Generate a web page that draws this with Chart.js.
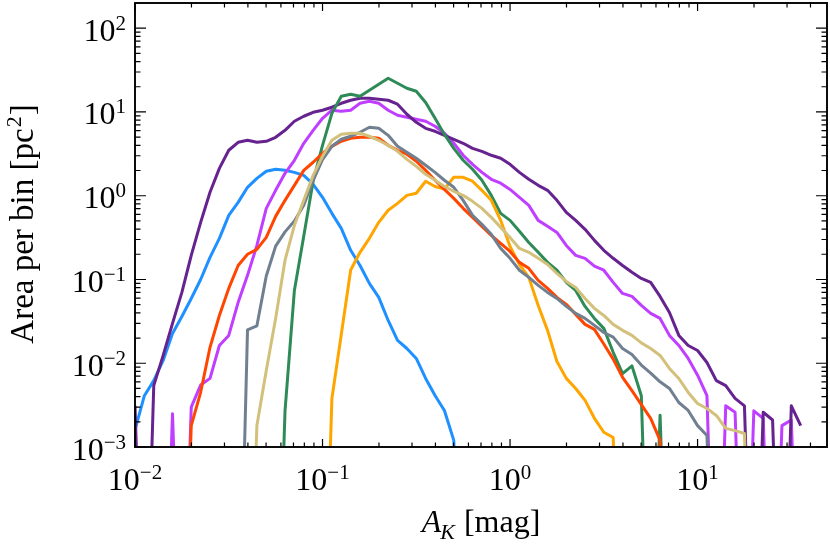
<!DOCTYPE html>
<html><head><meta charset="utf-8">
<script src="https://cdn.jsdelivr.net/npm/chart.js@4/dist/chart.umd.min.js"></script>
<style>html,body{margin:0;padding:0;background:#fff}#wrap{width:830px;height:545px}</style>
</head><body><div id="wrap"><canvas id="c" width="830" height="545"></canvas></div>
<script>
// bins with no area (drawn below the 1e-3 floor of the axis)
const ZERO = 1e-6;

// bin centres of A_K [mag]
const akBins = [
 0.01000,0.01122,0.01259,0.01413,0.01585,0.01778,0.01995,0.02239,0.02512,0.02818,
 0.03162,0.03548,0.03981,0.04467,0.05012,0.05623,0.06310,0.07079,0.07943,0.08913,
 0.1000,0.1122,0.1259,0.1413,0.1585,0.1778,0.1995,0.2239,0.2512,0.2818,
 0.3162,0.3548,0.3981,0.4467,0.5012,0.5623,0.6310,0.7079,0.7943,0.8913,
 1.000,1.122,1.259,1.413,1.585,1.778,1.995,2.239,2.512,2.818,
 3.162,3.548,3.981,4.467,5.012,5.623,6.310,7.079,7.943,8.913,
 10.00,11.22,12.59,14.13,15.85,17.78,19.95,22.39,25.12,28.18,
 31.62,35.48,39.81,44.67];

// area per bin [pc^2], one array per cloud
const blueArea = [
 0.0016,0.0041,0.0062,0.0108,0.0227,0.0362,0.0594,0.100,0.184,0.310,
 0.583,0.834,1.26,1.61,1.96,2.07,2.01,1.90,1.75,1.37,
 0.957,0.616,0.408,0.223,0.147,0.0898,0.0611,0.0324,0.0187,0.0150,
 0.0114,0.00658,0.00412,0.00273,0.0012,ZERO,null,null,null,null,
 null,null,null,null,null,null,null,null,null,null,
 null,null,null,null,null,null,null,null,null,null,
 null,null,null,null,null,null,null,null,null,null,
 null,null,null,null];
const purpleArea = [
 0.0031,ZERO,0.0054,0.0124,0.0299,0.0701,0.194,0.481,1.10,2.12,
 3.49,4.34,4.59,4.34,4.47,4.99,6.04,7.74,8.89,9.92,
 10.5,11.4,12.7,13.8,14.6,14.6,14.2,13.8,12.4,9.39,
 7.53,6.38,5.88,5.26,4.72,4.23,3.68,3.39,3.04,2.80,
 2.37,1.90,1.57,1.33,1.16,0.881,0.633,0.508,0.397,0.293,
 0.223,0.179,0.147,0.122,0.103,0.0923,0.0628,0.0404,0.0215,0.0163,
 0.0142,0.0102,0.0062,0.0054,0.0038,0.0031,ZERO,0.0026,0.0021,ZERO,
 0.0031,0.0018,null,null];
const magentaArea = [
 null,null,null,ZERO,0.0025,ZERO,0.0030,0.0055,0.0066,0.0163,
 0.0215,0.0532,0.112,0.255,0.707,1.16,1.85,2.65,4.23,6.04,
 8.41,10.5,10.2,10.5,12.7,13.4,12.7,10.5,9.14,8.64,
 8.18,7.74,6.75,5.57,4.23,3.04,2.37,1.90,1.57,1.41,
 1.19,0.957,0.768,0.508,0.431,0.365,0.255,0.194,0.179,0.144,
 0.129,0.0923,0.0682,0.0628,0.049,0.0394,0.0343,0.0215,0.0163,0.0114,
 0.0072,0.0041,ZERO,0.0031,0.0026,ZERO,0.0027,0.0022,ZERO,0.0018,
 0.0021,ZERO,null,null];
const redArea = [
 null,null,null,null,null,ZERO,0.0018,0.0045,0.0155,0.0372,
 0.0783,0.147,0.200,0.229,0.318,0.567,0.881,1.33,2.01,2.51,
 3.21,3.89,4.47,4.85,4.99,4.99,4.85,4.00,3.49,3.13,
 2.58,2.01,1.53,1.19,0.930,0.707,0.552,0.431,0.336,0.270,
 0.216,0.160,0.136,0.0975,0.0783,0.0611,0.0505,0.0383,0.0291,0.0254,
 0.0170,0.0112,0.0068,0.0047,0.0032,0.0022,0.0012,ZERO,null,null,
 null,null,null,null,null,null,null,null,null,null,
 null,null,null,null];
const grayArea = [
 null,null,null,null,null,null,null,null,null,null,
 null,ZERO,0.025,0.028,0.110,0.250,0.370,0.500,0.770,1.53,
 2.70,3.89,4.72,5.13,5.72,6.57,6.38,5.26,3.89,3.30,
 2.80,2.31,1.90,1.53,1.26,0.881,0.583,0.455,0.346,0.235,
 0.179,0.129,0.106,0.085,0.0701,0.0594,0.0477,0.0394,0.0343,0.0283,
 0.0233,0.0205,0.0150,0.0127,0.0095,0.0076,0.0060,0.0050,0.0034,0.00273,
 0.0018,0.00137,ZERO,null,null,null,null,null,null,null,
 null,null,null,null];
const khakiArea = [
 null,null,null,null,null,null,null,null,null,null,
 null,null,ZERO,0.0018,0.0082,0.0343,0.170,0.443,0.881,1.75,
 2.96,4.59,5.42,5.57,5.57,5.13,4.59,4.00,3.39,2.72,
 2.24,1.80,1.53,1.29,1.13,1.01,0.857,0.707,0.552,0.419,
 0.318,0.235,0.211,0.179,0.151,0.118,0.0948,0.0804,0.0594,0.0452,
 0.0372,0.0291,0.0247,0.0215,0.0175,0.0150,0.0124,0.00867,0.00658,0.00448,
 0.00331,0.00288,0.00238,0.00167,0.00157,0.00145,ZERO,null,null,null,
 null,null,null,null];
const greenArea = [
 null,null,null,null,null,null,null,null,null,null,
 null,null,null,null,null,ZERO,0.0027,0.074,0.330,1.50,
 4.00,9.64,15.4,16.3,15.4,18.2,21.4,25.3,22.0,19.2,
 17.7,13.0,8.41,5.40,3.68,2.65,2.07,1.53,1.01,0.616,
 0.508,0.376,0.277,0.211,0.160,0.129,0.0923,0.0741,0.0477,0.0343,
 0.0261,0.0135,0.0075,0.0093,0.0041,ZERO,0.0024,ZERO,null,null,
 null,null,null,null,null,null,null,null,null,null,
 null,null,null,null];
const orangeArea = [
 null,null,null,null,null,null,null,null,null,null,
 null,null,null,null,null,null,null,null,null,null,
 ZERO,0.0038,0.022,0.130,0.211,0.310,0.481,0.670,0.811,1.01,
 1.07,1.49,1.29,1.20,1.66,1.66,1.49,1.16,0.881,0.508,
 0.248,0.151,0.106,0.049,0.0247,0.0105,0.0066,0.0050,0.0036,0.0022,
 0.0015,0.0013,ZERO,null,null,null,null,null,null,null,
 null,null,null,null,null,null,null,null,null,null,
 null,null,null,null];

// axis ticks
const xMajor = [0.01, 0.1, 1, 10];
const xMajorExp = ['\u22122', '\u22121', '0', '1'];
const yMajor = [0.001, 0.01, 0.1, 1, 10, 100];
const yMajorExp = ['\u22123', '\u22122', '\u22121', '0', '1', '2'];
const tickBase = '10';
const minorMantissas = [2, 3, 4, 5, 6, 7, 8, 9];

const series = [
  {data: khakiArea, color: '#d2c07b'},
  {data: grayArea, color: '#708090'},
  {data: redArea, color: '#ff4500'},
  {data: orangeArea, color: '#ffa500'},
  {data: greenArea, color: '#2e8b57'},
  {data: purpleArea, color: '#66228e'},
  {data: magentaArea, color: '#bf3eff'},
  {data: blueArea, color: '#1e90ff'}
];

const FONT = "'Liberation Serif', 'Times New Roman', serif";

const axesPlugin = {
  id: 'mplAxes',
  afterDatasetsDraw(chart) {
    const ctx = chart.ctx, a = chart.chartArea, xs = chart.scales.x, ys = chart.scales.y;
    ctx.save();
    ctx.strokeStyle = '#000';
    ctx.lineWidth = 1.2;
    ctx.beginPath();
    const xTick = (v, len) => { const p = xs.getPixelForValue(v); ctx.moveTo(p, a.bottom); ctx.lineTo(p, a.bottom - len); ctx.moveTo(p, a.top); ctx.lineTo(p, a.top + len); };
    const yTick = (v, len) => { const p = ys.getPixelForValue(v); ctx.moveTo(a.left, p); ctx.lineTo(a.left + len, p); ctx.moveTo(a.right, p); ctx.lineTo(a.right - len, p); };
    xMajor.forEach(v => { xTick(v, 8); minorMantissas.forEach(m => { if (v * m < xs.max) xTick(v * m, 4.5); }); });
    yMajor.forEach(v => { yTick(v, 11); minorMantissas.forEach(m => { if (v * m < ys.max) yTick(v * m, 5.5); }); });
    ctx.stroke();
    ctx.lineWidth = 1.9;
    ctx.strokeRect(a.left, a.top, a.right - a.left, a.bottom - a.top);

    ctx.fillStyle = '#000';
    ctx.textBaseline = 'alphabetic';
    ctx.textAlign = 'left';
    const baseFont = '32px ' + FONT, expFont = '21px ' + FONT;
    ctx.font = baseFont; const bw = ctx.measureText(tickBase).width;
    // y tick labels
    yMajor.forEach((v, i) => {
      const p = ys.getPixelForValue(v);
      ctx.font = expFont; const ew = ctx.measureText(yMajorExp[i]).width;
      const right = 126;
      ctx.font = baseFont; ctx.fillText(tickBase, right - ew - bw, p + 12.5);
      ctx.font = expFont; ctx.fillText(yMajorExp[i], right - ew, p + 1.5);
    });
    // x tick labels
    xMajor.forEach((v, i) => {
      const p = xs.getPixelForValue(v);
      ctx.font = expFont; const ew = ctx.measureText(xMajorExp[i]).width;
      const start = p - (bw + ew) / 2;
      ctx.font = baseFont; ctx.fillText(tickBase, start, 490);
      ctx.font = expFont; ctx.fillText(xMajorExp[i], start + bw, 479);
    });
    // y title
    ctx.save();
    ctx.translate(33, (a.top + a.bottom) / 2);
    ctx.rotate(-Math.PI / 2);
    const yt1 = 'Area per bin [pc', yt2 = '2', yt3 = ']';
    ctx.font = '33px ' + FONT; const w1 = ctx.measureText(yt1).width, w3 = ctx.measureText(yt3).width;
    ctx.font = '22px ' + FONT; const w2 = ctx.measureText(yt2).width;
    let x0 = -(w1 + w2 + w3) / 2;
    ctx.font = '33px ' + FONT; ctx.fillText(yt1, x0, 0);
    ctx.font = '22px ' + FONT; ctx.fillText(yt2, x0 + w1 + 1, -12);
    ctx.font = '33px ' + FONT; ctx.fillText(yt3, x0 + w1 + w2 + 2, 0);
    ctx.restore();
    // x title
    const xt1 = 'A', xt2 = 'K', xt3 = ' [mag]';
    ctx.font = 'italic 32px ' + FONT; const v1 = ctx.measureText(xt1).width;
    ctx.font = 'italic 22px ' + FONT; const v2 = ctx.measureText(xt2).width;
    ctx.font = '32px ' + FONT; const v3 = ctx.measureText(xt3).width;
    const xc = (a.left + a.right) / 2;
    let xs0 = xc - (v1 + v2 + v3) / 2;
    ctx.font = 'italic 32px ' + FONT; ctx.fillText(xt1, xs0, 532);
    ctx.font = 'italic 22px ' + FONT; ctx.fillText(xt2, xs0 + v1 - 1, 539);
    ctx.font = '32px ' + FONT; ctx.fillText(xt3, xs0 + v1 + v2, 532);
    ctx.restore();
  }
};

new Chart(document.getElementById('c'), {
  type: 'line',
  data: {
    datasets: series.map(s => ({
      data: akBins.map((x, i) => ({x: x, y: s.data[i]})),
      borderColor: s.color,
      backgroundColor: s.color,
      borderWidth: 3,
      borderJoinStyle: 'round',
      pointRadius: 0,
      tension: 0,
      fill: false,
      spanGaps: false,
      clip: 0
    }))
  },
  options: {
    responsive: false,
    animation: false,
    devicePixelRatio: 1,
    layout: {padding: {left: 135, right: 3, top: 3, bottom: 98}},
    scales: {
      x: {type: 'logarithmic', min: 0.01, max: 49, display: false},
      y: {type: 'logarithmic', min: 0.001, max: 200, display: false}
    },
    plugins: {legend: {display: false}, tooltip: {enabled: false}}
  },
  plugins: [axesPlugin]
});
</script>
</body></html>
